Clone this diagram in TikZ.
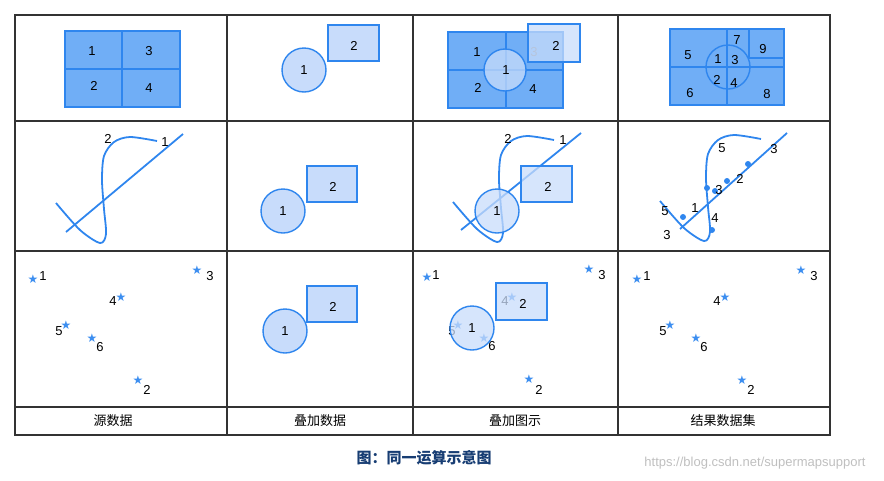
\documentclass[tikz,border=0pt]{standalone}
\usepackage{fontspec}
\setmainfont{Liberation Sans}
\newfontfamily\cjk{Noto Sans CJK SC}
\newfontfamily\djfont{DejaVu Sans}
\definecolor{dk}{HTML}{70AEF6}
\definecolor{ln}{HTML}{2F86EE}
\definecolor{lt}{HTML}{C8DCFB}
\definecolor{cap}{HTML}{173D73}
\definecolor{st}{HTML}{3C8EF0}
\begin{document}
\begin{tikzpicture}[x=1pt,y=-1pt,
  grid/.style={draw=black!80,line width=1.2pt},
  lbl/.style={font=\fontsize{13}{13}\selectfont,inner sep=0pt},
  star/.style={text=st,font=\djfont\fontsize{12}{12}\selectfont,inner sep=0pt},
  dark/.style={fill=dk,draw=ln,line width=1.4pt},
  light/.style={fill=lt,draw=ln,line width=1.4pt},
  tr/.style={fill=lt,fill opacity=0.75,draw=ln,line width=1.4pt},
  pl/.style={draw=ln,line width=1.8pt},
  dot/.style={fill=ln,circle,inner sep=0pt,minimum size=6pt}]
\useasboundingbox (0,0) rectangle (884,480);
% grid
\draw[grid] (15,15) rectangle (830,435);
\foreach \x in {227,413,618} \draw[grid] (\x,15) -- (\x,435);
\foreach \y in {121,251,407} \draw[grid] (15,\y) -- (830,\y);
% row 1
\draw[dark] (65,31) rectangle (180,107);
\draw[ln,line width=1.4pt] (122,31)--(122,107) (65,69)--(180,69);
\node[lbl] (a1) at (92,51) {1}; \node[lbl] (a3) at (149,51) {3};
\node[lbl] (a2) at (94,86) {2}; \node[lbl] (a4) at (149,88) {4};
\draw[light] (304,70) circle (22); \node[lbl] (b1) at (304,70) {1};
\draw[light] (328,25) rectangle (379,61); \node[lbl] (b2) at (354,46) {2};
\draw[dark] (448,32) rectangle (563,108);
\draw[ln,line width=1.4pt] (506,32)--(506,108) (448,70)--(563,70);
\node[lbl] (c1) at (477,52) {1}; \node[lbl] (c2) at (478,88) {2}; \node[lbl] (c4) at (533,89) {4};
\node[lbl,text=gray] (c3) at (534,52) {3};
\draw[tr] (505,70) circle (21); \node[lbl] (cc1) at (506,70) {1};
\draw[tr] (528,24) rectangle (580,62); \node[lbl] (cr2) at (556,46) {2};
\draw[dark] (670,29) rectangle (784,105);
\draw[ln,line width=1.4pt] (727,29)--(727,105) (670,67)--(784,67) (749,29)--(749,58)--(784,58);
\draw[ln,line width=1.4pt] (728,67) circle (22);
\node[lbl] at (688,55) {5}; \node[lbl] at (737,40) {7}; \node[lbl] at (763,49) {9};
\node[lbl] at (718,59) {1}; \node[lbl] at (735,60) {3}; \node[lbl] at (717,80) {2};
\node[lbl] at (734,83) {4}; \node[lbl] at (690,93) {6}; \node[lbl] at (767,94) {8};
% row 2
\def\curve{plot[smooth] coordinates {(0,0) (24,27) (44,40) (50,31) (48,6) (46,-23) (48,-47) (58,-61) (74,-66) (101,-62)}}
\draw[pl] (66,232)--(183,134);
\draw[pl,shift={(56,203)}] \curve;
\node[lbl] at (108,139) {2}; \node[lbl] at (165,142) {1};
\draw[light] (283,211) circle (22); \node[lbl] at (283,211) {1};
\draw[light] (307,166) rectangle (357,202); \node[lbl] at (333,187) {2};
\draw[pl] (461,230)--(581,133);
\draw[pl,shift={(453,202)}] \curve;
\draw[tr] (497,211) circle (22); \node[lbl] at (497,211) {1};
\draw[tr] (521,166) rectangle (572,202); \node[lbl] at (548,187) {2};
\node[lbl] at (508,139) {2}; \node[lbl] at (563,140) {1};
\draw[pl] (680,229)--(787,133);
\draw[pl,shift={(660,201)}] \curve;
\foreach \p in {(683,217),(707,188),(715,191),(727,181),(748,164),(712,230)} \node[dot] at \p {};
\node[lbl] at (722,148) {5}; \node[lbl] at (774,149) {3}; \node[lbl] at (740,179) {2};
\node[lbl] at (719,190) {3}; \node[lbl] at (695,208) {1}; \node[lbl] at (665,211) {5};
\node[lbl] at (715,218) {4}; \node[lbl] at (667,235) {3};
% row 3
\foreach \dx in {0,604}{
 \begin{scope}[shift={(\dx,0)}]
 \node[star] at (33,279) {★}; \node[lbl] at (43,276) {1};
 \node[star] at (197,270) {★}; \node[lbl] at (210,276) {3};
 \node[star] at (121,297) {★}; \node[lbl] at (113,301) {4};
 \node[star] at (66,325) {★}; \node[lbl] at (59,331) {5};
 \node[star] at (92,338) {★}; \node[lbl] at (100,347) {6};
 \node[star] at (138,380) {★}; \node[lbl] at (147,390) {2};
 \end{scope}}
\draw[light] (285,331) circle (22); \node[lbl] at (285,331) {1};
\draw[light] (307,286) rectangle (357,322); \node[lbl] at (333,307) {2};
\node[star] at (427,277) {★}; \node[lbl] at (436,275) {1};
\node[star] at (589,269) {★}; \node[lbl] at (602,275) {3};
\node[star] at (529,379) {★}; \node[lbl] at (539,390) {2};
\node[star] at (512,297) {★}; \node[lbl] at (505,301) {4};
\node[star] at (458,325) {★}; \node[lbl] at (452,331) {5};
\node[star] at (484,338) {★}; \node[lbl] at (492,346) {6};
\draw[tr] (472,328) circle (22); \node[lbl] at (472,328) {1};
\draw[tr] (496,283) rectangle (547,320); \node[lbl] at (523,304) {2};
% headers
\node[font=\cjk\fontsize{13}{13}\selectfont] (h1) at (113,421) {源数据};
\node[font=\cjk\fontsize{13}{13}\selectfont] (h2) at (320,421) {叠加数据};
\node[font=\cjk\fontsize{13}{13}\selectfont] (h3) at (515,421) {叠加图示};
\node[font=\cjk\fontsize{13}{13}\selectfont] (h4) at (723,421) {结果数据集};
\node[font=\cjk\bfseries\fontsize{15}{15}\selectfont,text=cap] (cp) at (424,458) {图：同一运算示意图};
\node[font=\fontsize{13}{13}\selectfont,text=black!25] (wm) at (755,463) {https://blog.csdn.net/supermapsupport};
\end{tikzpicture}
\end{document}
